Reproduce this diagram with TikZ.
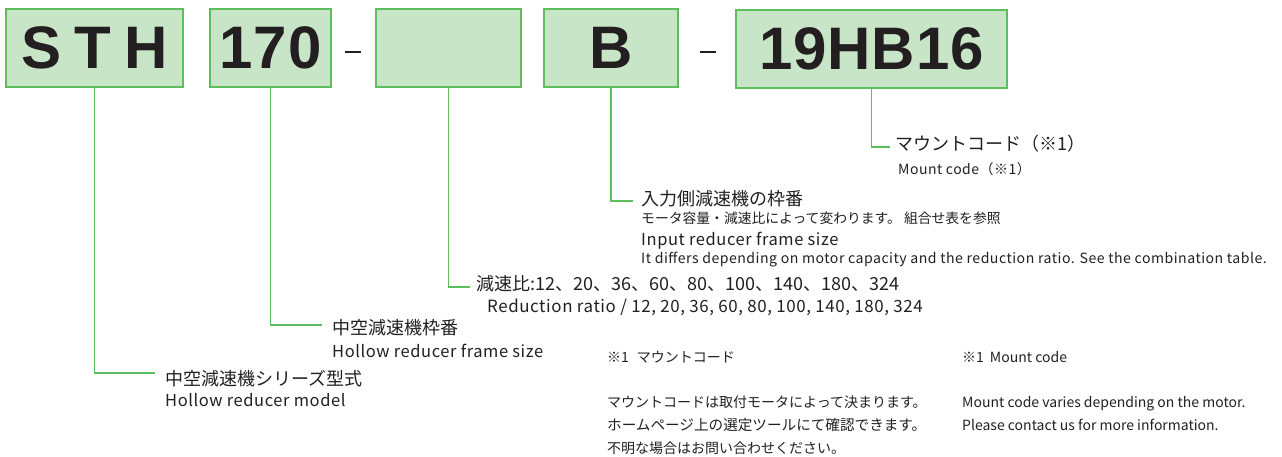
\documentclass[tikz,border=0pt]{standalone}
\usepackage{fontspec}
\setmainfont{Noto Sans CJK JP}
\newfontfamily\boxfont[LetterSpace=1.5]{Liberation Sans}
\newfontfamily\subfont[LetterSpace=3.5]{Noto Sans CJK JP}
\definecolor{boxfill}{HTML}{C9E5C8}
\definecolor{boxline}{HTML}{5DBE5D}
\definecolor{txt}{HTML}{231F20}
\begin{document}
\begin{tikzpicture}[x=1pt,y=-1pt,
  codebox/.style={draw=boxline,fill=boxfill,line width=1.5pt,inner sep=0pt,
    font=\boxfont\bfseries\fontsize{60}{60}\selectfont,text=txt},
  conn/.style={draw=boxline,line width=1.5pt},
  head/.style={anchor=base west,inner sep=0pt,text=txt,font=\fontsize{18}{18}\selectfont},
  sub/.style={anchor=base west,inner sep=0pt,text=txt,font=\subfont\fontsize{16.5}{17}\selectfont},
  small/.style={anchor=base west,inner sep=0pt,text=txt,font=\subfont\fontsize{14}{14}\selectfont},
  smalljp/.style={anchor=base west,inner sep=0pt,text=txt,font=\fontsize{13.8}{14}\selectfont},
  note/.style={anchor=base west,inner sep=0pt,text=txt,font=\fontsize{14}{14}\selectfont},
  dashmark/.style={fill=txt,inner sep=0pt,minimum width=16pt,minimum height=2.8pt}]
\useasboundingbox (0,0) rectangle (1282,457);
% boxes
\node[codebox,minimum width=177pt,minimum height=78pt] (sth) at (94.5,48) {\raisebox{-2pt}{S\hspace{13pt}T\hspace{13pt}H}};
\node[codebox,minimum width=121pt,minimum height=78pt] (n170) at (270.5,48) {\raisebox{-2pt}{170}};
\node[dashmark] (d1) at (353,52) {};
\node[codebox,minimum width=145pt,minimum height=78pt] (blank) at (448.5,48) {};
\node[codebox,minimum width=134pt,minimum height=78pt] (bb) at (611,48) {\raisebox{-2pt}{B}};
\node[dashmark] (d2) at (708,52) {};
\node[codebox,minimum width=271pt,minimum height=78pt] (mc) at (871.5,49) {\raisebox{-2pt}{19HB16}};
% labels
\node[head] (l5) at (895,151) {マウントコード（※1）};
\node[small] (l5e) at (898,175) {Mount code（※1）};
\node[head] (l4) at (641,206) {入力側減速機の枠番};
\node[smalljp] (l4b) at (641,223) {モータ容量・減速比によって変わります。 組合せ表を参照};
\node[sub] (l4e) at (641,245) {Input reducer frame size};
\node[small] (l4f) at (641,263) {\fontsize{14.1}{14}\selectfont It differs depending on motor capacity and the reduction ratio. See the combination table.};
\node[head] (l3) at (476,290) {減速比:12、20、36、60、80、100、140、180、324};
\node[sub] (l3e) at (487,312) {\fontsize{16.9}{17}\selectfont Reduction ratio / 12, 20, 36, 60, 80, 100, 140, 180, 324};
\node[head] (l2) at (332,334) {中空減速機枠番};
\node[sub] (l2e) at (332,357) {Hollow reducer frame size};
\node[head] (l1) at (165,385) {中空減速機シリーズ型式};
\node[sub] (l1e) at (165,406) {Hollow reducer model};
% connector ends
\coordinate (e5) at (890,147);
\coordinate (e4) at (633,201);
\coordinate (e3) at (470,287);
\coordinate (e2) at (322,325);
\coordinate (e1) at (155,373);
\draw[conn] (mc.south) |- (e5);
\draw[conn] (bb.south) |- (e4);
\draw[conn] (blank.south) |- (e3);
\draw[conn] (n170.south) |- (e2);
\draw[conn] (sth.south) |- (e1);
% notes
\node[note] (n1) at (607,362) {※1\hspace{8pt}マウントコード};
\node[note] (n2) at (962,362) {※1\hspace{6pt}Mount code};
\node[note] (n3) at (607,407) {マウントコードは取付モータによって決まります。};
\node[note] (n4) at (607,430) {\fontsize{14.6}{14}\selectfont ホームページ上の選定ツールにて確認できます。};
\node[note] (n5) at (607,453) {不明な場合はお問い合わせください。};
\node[note] (n6) at (962,407) {Mount code varies depending on the motor.};
\node[note] (n7) at (962,430) {Please contact us for more information.};
\end{tikzpicture}
\end{document}
